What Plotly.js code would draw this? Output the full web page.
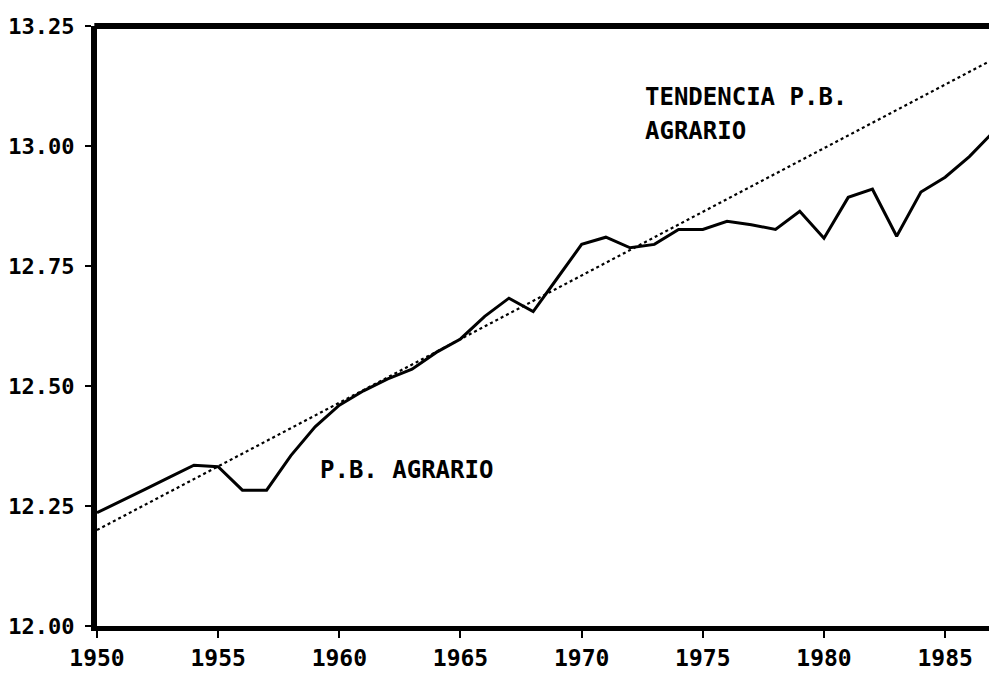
<!DOCTYPE html>
<html>
<head>
<meta charset="utf-8">
<script src="https://cdn.plot.ly/plotly-3.0.1.min.js"></script>
<style>
html,body{margin:0;padding:0;background:#fff;overflow:hidden;}
#chart{width:989px;height:676px;}
</style>
</head>
<body>
<div id="chart"></div>
<script>
// Data
const years = [1950,1951,1952,1953,1954,1955,1956,1957,1958,1959,
               1960,1961,1962,1963,1964,1965,1966,1967,1968,1969,
               1970,1971,1972,1973,1974,1975,1976,1977,1978,1979,
               1980,1981,1982,1983,1984,1985,1986,1987];
const pbAgrario = [12.236,12.260,12.285,12.310,12.335,12.332,12.283,12.283,12.355,12.415,
                   12.460,12.490,12.515,12.535,12.570,12.598,12.645,12.683,12.655,12.725,
                   12.795,12.810,12.788,12.795,12.826,12.826,12.843,12.836,12.826,12.864,
                   12.808,12.893,12.910,12.812,12.904,12.935,12.978,13.030];
const trendYears = [1950, 1987];
const trendValues = [12.200, 13.181];

const xTickVals = [1950,1955,1960,1965,1970,1975,1980,1985];
const xTickText = ["1950","1955","1960","1965","1970","1975","1980","1985"];
const yTickVals = [12.00,12.25,12.50,12.75,13.00,13.25];
const yTickText = ["12.00","12.25","12.50","12.75","13.00","13.25"];

const labelTrend1 = "TENDENCIA P.B.";
const labelTrend2 = "AGRARIO";
const labelSeries = "P.B. AGRARIO";

const mono = "DejaVu Sans Mono, Liberation Mono, monospace";

const traces = [
  {x: trendYears, y: trendValues, type: 'scatter', mode: 'lines',
   line: {color: '#000', width: 2.2, dash: 'dot'}, hoverinfo: 'skip'},
  {x: years, y: pbAgrario, type: 'scatter', mode: 'lines',
   line: {color: '#000', width: 3}, hoverinfo: 'skip'}
];

const layout = {
  width: 989, height: 676,
  margin: {l: 97, r: 0, t: 26, b: 50},
  paper_bgcolor: '#fff', plot_bgcolor: '#fff',
  showlegend: false,
  xaxis: {
    range: [1950, 1986.81], showgrid: false, zeroline: false,
    showline: true, linecolor: '#000', linewidth: 5,
    ticks: 'outside', ticklen: 7, tickwidth: 2, tickcolor: '#000',
    tickvals: xTickVals, ticktext: xTickText, ticklabelstandoff: 0,
    tickfont: {family: mono, size: 23, color: '#000', weight: 'bold'},
    automargin: false
  },
  yaxis: {
    range: [12.0, 13.25], showgrid: false, zeroline: false,
    showline: true, linecolor: '#000', linewidth: 6,
    ticks: 'outside', ticklen: 6, tickwidth: 2, tickcolor: '#000',
    tickvals: yTickVals, ticktext: yTickText, ticklabelstandoff: 6,
    tickfont: {family: mono, size: 22, color: '#000', weight: 'bold'},
    automargin: false
  },
  shapes: [
    {type: 'line', xref: 'paper', yref: 'paper', x0: -0.003, x1: 1, y0: 1, y1: 1,
     line: {color: '#000', width: 6}}
  ],
  annotations: [
    {x: 1972.53, y: 13.102, xref: 'x', yref: 'y', text: labelTrend1, showarrow: false,
     xanchor: 'left', yanchor: 'middle',
     font: {family: mono, size: 24, color: '#000', weight: 'bold'}},
    {x: 1972.53, y: 13.031, xref: 'x', yref: 'y', text: labelTrend2, showarrow: false,
     xanchor: 'left', yanchor: 'middle',
     font: {family: mono, size: 24, color: '#000', weight: 'bold'}},
    {x: 1959.1, y: 12.325, xref: 'x', yref: 'y', text: labelSeries, showarrow: false,
     xanchor: 'left', yanchor: 'middle',
     font: {family: mono, size: 24, color: '#000', weight: 'bold'}}
  ]
};

Plotly.newPlot('chart', traces, layout, {staticPlot: true, displayModeBar: false});
</script>
</body>
</html>
